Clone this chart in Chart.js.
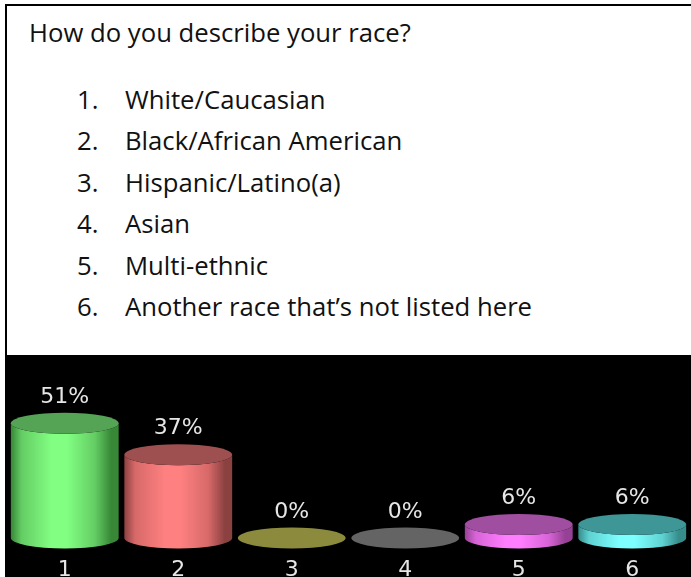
<!DOCTYPE html>
<html>
<head>
<meta charset="utf-8">
<title>How do you describe your race?</title>
<script src="https://cdn.jsdelivr.net/npm/chart.js@4/dist/chart.umd.min.js"></script>
<style>
  html, body { margin: 0; padding: 0; background: #fff; }
  body { width: 691px; height: 577px; position: relative; overflow: hidden; }
  .question {
    position: absolute; left: 5px; top: 4px; width: 720px; height: 360px;
    border-left: 2px solid #000; border-top: 2px solid #000; box-sizing: border-box;
    font-family: "Open Sans", sans-serif; font-size: 25.7px; color: #111;
  }
  .line { position: absolute; white-space: nowrap; line-height: 36px; }
  .num { position: absolute; }
  .txt { position: absolute; }
  .panel {
    position: absolute; left: 5px; top: 355px; width: 686px; height: 222px;
    background: #000;
  }
</style>
</head>
<body>
<div class="question" id="question"></div>
<div class="panel"><canvas id="chart" width="686" height="222"></canvas></div>
<script>
// Survey question and answer choices
const questionText = 'How do you describe your race?';
const answerChoices = [
  'White/Caucasian',
  'Black/African American',
  'Hispanic/Latino(a)',
  'Asian',
  'Multi-ethnic',
  'Another race that\u2019s not listed here'
];

// Response results
const categories = ['1', '2', '3', '4', '5', '6'];
const percentages = [51, 37, 0, 0, 6, 6];
const valueLabels = ['51%', '37%', '0%', '0%', '6%', '6%'];

// Cylinder colours: [edge shade, mid shade, highlight, top face]
const cylinderColors = [
  ['rgb(55,135,55)',  'rgb(100,205,100)', 'rgb(130,255,130)', 'rgb(85,163,85)'],
  ['rgb(140,65,65)',  'rgb(215,105,105)', 'rgb(255,128,128)', 'rgb(158,80,80)'],
  ['rgb(110,108,45)', 'rgb(140,138,60)',  'rgb(160,158,70)',  'rgb(140,138,60)'],
  ['rgb(80,80,80)',   'rgb(100,100,100)', 'rgb(115,115,115)', 'rgb(100,100,100)'],
  ['rgb(150,65,150)', 'rgb(215,100,215)', 'rgb(255,125,255)', 'rgb(160,78,160)'],
  ['rgb(55,140,140)', 'rgb(95,210,210)',  'rgb(125,255,255)', 'rgb(62,150,150)']
];

// Question text block, each line placed by its baseline
(function buildQuestion() {
  const box = document.getElementById('question');
  const fontSize = 25.7, lineHeight = 36;
  const ascent = 1.069 * fontSize, descent = 0.293 * fontSize;
  const baselineOffset = (lineHeight - ascent - descent) / 2 + ascent;
  const boxLeft = 7, boxTop = 6;
  const place = (el, baseline) => { el.style.top = (baseline - boxTop - baselineOffset) + 'px'; };

  const title = document.createElement('div');
  title.className = 'line';
  title.style.left = (29 - boxLeft) + 'px';
  place(title, 43);
  title.textContent = questionText;
  box.appendChild(title);

  answerChoices.forEach((choice, i) => {
    const row = document.createElement('div');
    row.className = 'line';
    row.style.left = '0px';
    place(row, 110 + i * 41.4);
    const n = document.createElement('span');
    n.className = 'num';
    n.style.left = (77 - boxLeft) + 'px';
    n.textContent = (i + 1) + '.';
    const t = document.createElement('span');
    t.className = 'txt';
    t.style.left = (125 - boxLeft) + 'px';
    t.textContent = choice;
    row.appendChild(n);
    row.appendChild(t);
    box.appendChild(row);
  });
})();

const RY = 10.5;

function drawCylinder(ctx, cx, top, base, width, colors) {
  const rx = width / 2;
  const [edge, mid, hi, face] = colors;
  if (base - top > 0.5) {
    const g = ctx.createLinearGradient(cx - rx, 0, cx + rx, 0);
    g.addColorStop(0, edge);
    g.addColorStop(0.1, mid);
    g.addColorStop(0.38, hi);
    g.addColorStop(0.52, hi);
    g.addColorStop(0.78, mid);
    g.addColorStop(0.93, edge);
    g.addColorStop(1, edge);
    ctx.beginPath();
    ctx.moveTo(cx - rx, top);
    ctx.lineTo(cx - rx, base);
    ctx.ellipse(cx, base, rx, RY, 0, Math.PI, 0, true);
    ctx.lineTo(cx + rx, top);
    ctx.ellipse(cx, top, rx, RY, 0, 0, Math.PI, false);
    ctx.closePath();
    ctx.fillStyle = g;
    ctx.fill();
  }
  ctx.beginPath();
  ctx.ellipse(cx, top, rx, RY, 0, 0, Math.PI * 2);
  ctx.fillStyle = face;
  ctx.fill();
}

const cylinderPlugin = {
  id: 'cylinders',
  afterDatasetsDraw(chart) {
    const ctx = chart.ctx;
    const meta = chart.getDatasetMeta(0);
    const xScale = chart.scales.x;
    ctx.save();
    ctx.font = '22px "DejaVu Sans", sans-serif';
    ctx.textAlign = 'center';
    ctx.textBaseline = 'alphabetic';
    meta.data.forEach((bar, i) => {
      const p = bar.getProps(['x', 'y', 'base', 'width'], true);
      drawCylinder(ctx, p.x, p.y, p.base, p.width, cylinderColors[i]);
      ctx.fillStyle = '#e6e6e6';
      ctx.fillText(valueLabels[i], p.x, p.y - RY - 10);
    });
    ctx.fillStyle = '#e6e6e6';
    categories.forEach((c, i) => {
      ctx.fillText(c, xScale.getPixelForTick(i), 221);
    });
    ctx.restore();
  }
};

new Chart(document.getElementById('chart'), {
  type: 'bar',
  data: {
    labels: categories,
    datasets: [{
      data: percentages,
      backgroundColor: 'rgba(0,0,0,0)',
      borderWidth: 0,
      categoryPercentage: 1,
      barPercentage: 0.95
    }]
  },
  options: {
    responsive: false,
    animation: false,
    layout: { padding: { top: 48, bottom: 39, left: 3, right: 2 } },
    plugins: { legend: { display: false }, tooltip: { enabled: false } },
    scales: {
      x: { display: false },
      y: { display: false, min: 0, max: 60 }
    }
  },
  plugins: [cylinderPlugin]
});
</script>
</body>
</html>
